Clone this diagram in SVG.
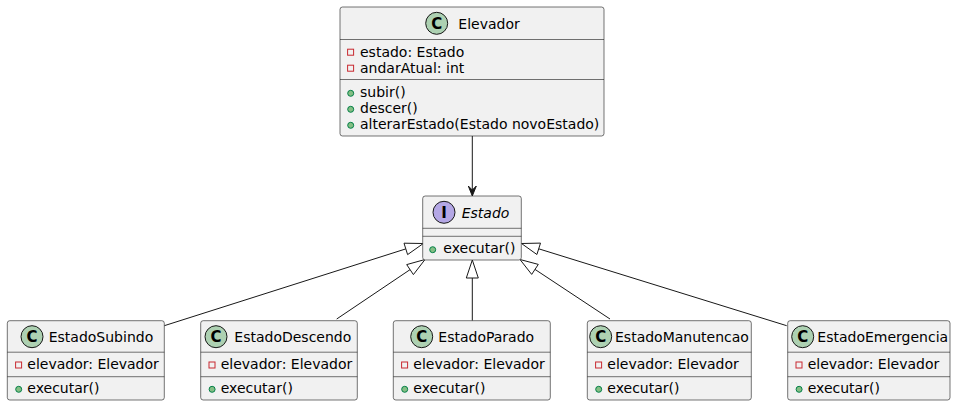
<svg xmlns="http://www.w3.org/2000/svg" width="956" height="406" viewBox="0 0 956 406">
<defs>
<style>
.box{fill:#F1F1F1;stroke:#181818;stroke-width:0.6}
.sep{stroke:#181818;stroke-width:0.6}
.t{font-family:"DejaVu Sans",sans-serif;font-size:14px;fill:#000}
.it{font-style:italic}
.cc{fill:#ADD1B2;stroke:#181818;stroke-width:1}
.ic{fill:#B4A7E5;stroke:#181818;stroke-width:1}
.g{font-family:"DejaVu Sans",sans-serif;font-size:15px;font-weight:bold;fill:#000;text-anchor:middle}
.priv{fill:none;stroke:#C82930;stroke-width:1}
.pub{fill:#84BE84;stroke:#038048;stroke-width:1}
.ln{stroke:#181818;stroke-width:1;fill:none}
.tri{fill:#FFFFFF;stroke:#181818;stroke-width:1}
.arr{fill:#181818;stroke:#181818;stroke-width:1}
</style>
</defs>
<rect width="956" height="406" fill="#FFFFFF"/>

<g id="connectors">
<line class="ln" x1="472.3" y1="136" x2="472.3" y2="192"/>
<polygon class="arr" points="472.3,196 468.3,186 472.3,190 476.3,186"/>
<line class="ln" x1="405.8" y1="248.9" x2="164.3" y2="325.7"/>
<polygon class="tri" points="423.3,243.5 407.6,254.6 404,243.2"/>
<line class="ln" x1="410.1" y1="269.6" x2="336.7" y2="319"/>
<polygon class="tri" points="425,259.5 413.4,274.6 406.7,264.6"/>
<line class="ln" x1="472.3" y1="278" x2="472.3" y2="320.7"/>
<polygon class="tri" points="472.3,260 466.3,278 478.3,278"/>
<line class="ln" x1="535" y1="269.4" x2="610" y2="319"/>
<polygon class="tri" points="520,259.5 531.7,274.4 538.3,264.4"/>
<line class="ln" x1="538.7" y1="248.8" x2="786.7" y2="325.7"/>
<polygon class="tri" points="521.5,243.5 536.9,254.5 540.5,243.1"/>
</g>

<g id="Elevador">
<rect class="box" x="340" y="7" width="264" height="129" rx="2.5"/>
<circle class="cc" cx="436.7" cy="23.3" r="11"/>
<text class="g" x="436.7" y="28.8">C</text>
<text class="t" x="458.3" y="28.5">Elevador</text>
<line class="sep" x1="340" y1="39.5" x2="604" y2="39.5"/>
<rect class="priv" x="347.6" y="49.2" width="6" height="6"/>
<text class="t" x="360" y="56.5">estado: Estado</text>
<rect class="priv" x="347.6" y="65.2" width="6" height="6"/>
<text class="t" x="360" y="72.5">andarAtual: int</text>
<line class="sep" x1="340" y1="79.5" x2="604" y2="79.5"/>
<circle class="pub" cx="350.7" cy="93.3" r="3"/>
<text class="t" x="360" y="96.5">subir()</text>
<circle class="pub" cx="350.7" cy="109.3" r="3"/>
<text class="t" x="360" y="112.5">descer()</text>
<circle class="pub" cx="350.7" cy="125.3" r="3"/>
<text class="t" x="360" y="128.5">alterarEstado(Estado novoEstado)</text>
</g>

<g id="Estado">
<rect class="box" x="422.7" y="196" width="98.6" height="64" rx="2.5"/>
<circle class="ic" cx="444" cy="212.3" r="11"/>
<text class="g" x="444" y="217.8">I</text>
<text class="t it" x="461.7" y="217.5">Estado</text>
<line class="sep" x1="422.7" y1="228.3" x2="521.3" y2="228.3"/>
<line class="sep" x1="422.7" y1="236.3" x2="521.3" y2="236.3"/>
<circle class="pub" cx="432.7" cy="249.7" r="3"/>
<text class="t" x="443.3" y="253">executar()</text>
</g>

<g id="EstadoSubindo">
<rect class="box" x="7.3" y="320.7" width="157" height="79.3" rx="2.5"/>
<circle class="cc" cx="32" cy="336.7" r="11"/>
<text class="g" x="32" y="342.2">C</text>
<text class="t" x="48.7" y="342">EstadoSubindo</text>
<line class="sep" x1="7.3" y1="352.2" x2="164.3" y2="352.2"/>
<rect class="priv" x="15.6" y="362" width="6" height="6"/>
<text class="t" x="27.3" y="369">elevador: Elevador</text>
<line class="sep" x1="7.3" y1="376.7" x2="164.3" y2="376.7"/>
<circle class="pub" cx="18.7" cy="389.3" r="3"/>
<text class="t" x="27.3" y="393">executar()</text>
</g>

<g id="EstadoDescendo">
<rect class="box" x="200.7" y="320.7" width="156.6" height="79.3" rx="2.5"/>
<circle class="cc" cx="216" cy="336.7" r="11"/>
<text class="g" x="216" y="342.2">C</text>
<text class="t" x="234.3" y="342">EstadoDescendo</text>
<line class="sep" x1="200.7" y1="352.2" x2="357.3" y2="352.2"/>
<rect class="priv" x="209" y="362" width="6" height="6"/>
<text class="t" x="220.7" y="369">elevador: Elevador</text>
<line class="sep" x1="200.7" y1="376.7" x2="357.3" y2="376.7"/>
<circle class="pub" cx="212.1" cy="389.3" r="3"/>
<text class="t" x="220.7" y="393">executar()</text>
</g>

<g id="EstadoParado">
<rect class="box" x="393.3" y="320.7" width="157" height="79.3" rx="2.5"/>
<circle class="cc" cx="421.7" cy="336.7" r="11"/>
<text class="g" x="421.7" y="342.2">C</text>
<text class="t" x="438.3" y="342">EstadoParado</text>
<line class="sep" x1="393.3" y1="352.2" x2="550.3" y2="352.2"/>
<rect class="priv" x="401.6" y="362" width="6" height="6"/>
<text class="t" x="413.3" y="369">elevador: Elevador</text>
<line class="sep" x1="393.3" y1="376.7" x2="550.3" y2="376.7"/>
<circle class="pub" cx="404.7" cy="389.3" r="3"/>
<text class="t" x="413.3" y="393">executar()</text>
</g>

<g id="EstadoManutencao">
<rect class="box" x="587.3" y="320.7" width="164" height="79.3" rx="2.5"/>
<circle class="cc" cx="600.7" cy="336.7" r="11"/>
<text class="g" x="600.7" y="342.2">C</text>
<text class="t" x="615" y="342">EstadoManutencao</text>
<line class="sep" x1="587.3" y1="352.2" x2="751.3" y2="352.2"/>
<rect class="priv" x="595.6" y="362" width="6" height="6"/>
<text class="t" x="607.3" y="369">elevador: Elevador</text>
<line class="sep" x1="587.3" y1="376.7" x2="751.3" y2="376.7"/>
<circle class="pub" cx="598.7" cy="389.3" r="3"/>
<text class="t" x="607.3" y="393">executar()</text>
</g>

<g id="EstadoEmergencia">
<rect class="box" x="787.7" y="320.7" width="162.3" height="79.3" rx="2.5"/>
<circle class="cc" cx="802.7" cy="336.7" r="11"/>
<text class="g" x="802.7" y="342.2">C</text>
<text class="t" x="817.3" y="342">EstadoEmergencia</text>
<line class="sep" x1="787.7" y1="352.2" x2="950" y2="352.2"/>
<rect class="priv" x="796" y="362" width="6" height="6"/>
<text class="t" x="807.7" y="369">elevador: Elevador</text>
<line class="sep" x1="787.7" y1="376.7" x2="950" y2="376.7"/>
<circle class="pub" cx="799.1" cy="389.3" r="3"/>
<text class="t" x="807.7" y="393">executar()</text>
</g>
</svg>
